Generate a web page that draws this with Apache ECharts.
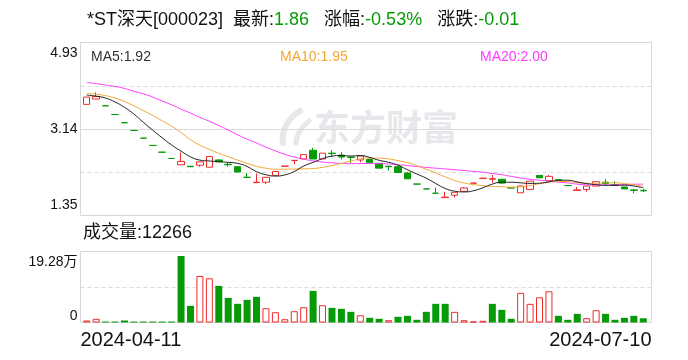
<!DOCTYPE html>
<html><head><meta charset="utf-8">
<script src="https://cdn.jsdelivr.net/npm/echarts@6/dist/echarts.min.js"></script>
<style>html,body{margin:0;padding:0;background:#fff}#c{width:688px;height:360px}</style>
</head><body><div id="c"></div>
<script>
const stockName = '*ST深天[000023]';
const dates = ['2024-04-11','2024-04-12','2024-04-15','2024-04-16','2024-04-17','2024-04-18','2024-04-19','2024-04-22','2024-04-23','2024-04-24',
 '2024-04-25','2024-04-26','2024-04-29','2024-05-06','2024-05-07','2024-05-08','2024-05-09','2024-05-10','2024-05-13','2024-05-14',
 '2024-05-15','2024-05-16','2024-05-17','2024-05-20','2024-05-21','2024-05-22','2024-05-23','2024-05-24','2024-05-27','2024-05-28',
 '2024-05-29','2024-05-30','2024-05-31','2024-06-03','2024-06-04','2024-06-05','2024-06-06','2024-06-07','2024-06-11','2024-06-12',
 '2024-06-13','2024-06-14','2024-06-17','2024-06-18','2024-06-19','2024-06-20','2024-06-21','2024-06-24','2024-06-25','2024-06-26',
 '2024-06-27','2024-06-28','2024-07-01','2024-07-02','2024-07-03','2024-07-04','2024-07-05','2024-07-08','2024-07-09','2024-07-10'];
const opens = [3.65,3.76,3.62,3.44,3.27,3.11,2.95,2.80,2.66,2.53,
 2.40,2.37,2.39,2.35,2.50,2.41,2.36,2.14,2.03,2.04,
 2.18,2.37,2.49,2.52,2.70,2.52,2.64,2.60,2.56,2.50,
 2.51,2.43,2.37,2.36,2.23,2.00,1.90,1.81,1.72,1.77,
 1.85,2.02,2.12,2.10,2.10,1.92,1.82,1.89,2.18,2.07,
 2.09,1.97,1.87,1.89,1.96,2.04,1.99,1.94,1.88,1.87];
const closes = [3.80,3.81,3.62,3.44,3.27,3.11,2.95,2.80,2.66,2.53,
 2.47,2.36,2.46,2.57,2.46,2.40,2.25,2.14,2.04,2.14,
 2.26,2.37,2.49,2.61,2.52,2.64,2.63,2.56,2.55,2.58,
 2.44,2.33,2.36,2.24,2.11,2.00,1.90,1.81,1.73,1.83,
 1.92,2.02,2.12,2.11,2.02,1.92,1.96,2.06,2.13,2.16,
 2.08,1.97,1.88,1.96,2.05,2.01,1.97,1.90,1.87,1.86];
const lows = [3.65,3.76,3.62,3.44,3.27,3.11,2.95,2.80,2.66,2.53,
 2.40,2.35,2.36,2.35,2.46,2.36,2.25,2.14,2.03,2.00,
 2.18,2.37,2.41,2.52,2.52,2.52,2.57,2.51,2.44,2.45,
 2.44,2.33,2.28,2.24,2.11,2.00,1.90,1.81,1.72,1.72,
 1.85,2.02,2.12,2.03,2.01,1.92,1.82,1.89,2.13,2.07,
 2.07,1.97,1.87,1.84,1.96,1.98,1.96,1.90,1.81,1.84];
const highs = [3.80,3.90,3.62,3.44,3.27,3.11,2.95,2.80,2.66,2.53,
 2.65,2.37,2.46,2.57,2.51,2.45,2.36,2.23,2.22,2.14,
 2.26,2.37,2.49,2.61,2.75,2.64,2.70,2.66,2.58,2.58,
 2.55,2.43,2.37,2.36,2.25,2.00,1.90,1.93,1.84,1.83,
 1.94,2.02,2.12,2.19,2.10,1.92,1.96,2.06,2.18,2.19,
 2.10,1.97,1.94,1.96,2.05,2.10,2.06,1.94,1.90,1.90];
const volumes = [5800,10700,2900,2900,5800,2900,2900,2900,2900,2900,
 192800,48300,135000,128100,106100,71400,54100,65600,74300,41300,
 29800,9500,32700,44200,91600,50000,42500,39600,30900,21100,
 13600,10700,6600,16500,19400,7800,30900,54100,54100,30900,
 6600,2900,4900,54100,36700,10700,85900,54100,73100,90500,
 19400,7800,25100,12400,35600,25100,7800,13600,19400,12266];
const ma5 = [3.84,3.82,3.78,3.70,3.588,3.45,3.278,3.114,2.958,2.81,
 2.682,2.564,2.496,2.478,2.464,2.45,2.428,2.364,2.258,2.194,
 2.166,2.19,2.26,2.374,2.45,2.526,2.578,2.592,2.58,2.592,
 2.552,2.492,2.452,2.39,2.296,2.208,2.122,2.012,1.91,1.854,
 1.838,1.862,1.924,2.00,2.038,2.038,2.026,2.014,2.018,2.046,
 2.078,2.08,2.044,2.01,1.988,1.974,1.974,1.978,1.96,1.922];
const ma10 = [3.88,3.86,3.83,3.78,3.71,3.62,3.52,3.42,3.31,3.199,
 3.066,2.921,2.805,2.718,2.637,2.566,2.496,2.43,2.368,2.329,
 2.308,2.309,2.312,2.316,2.322,2.346,2.384,2.426,2.477,2.521,
 2.539,2.535,2.522,2.485,2.444,2.38,2.307,2.232,2.15,2.075,
 2.023,1.992,1.968,1.955,1.946,1.938,1.944,1.969,2.009,2.042,
 2.058,2.053,2.029,2.014,2.017,2.026,2.027,2.011,1.985,1.954];
const ma20 = [4.10,4.08,4.05,4.02,3.98,3.92,3.87,3.80,3.72,3.64,
 3.55,3.47,3.38,3.30,3.21,3.12,3.02,2.93,2.85,2.764,
 2.687,2.615,2.559,2.517,2.48,2.456,2.44,2.428,2.423,2.425,
 2.424,2.422,2.417,2.401,2.383,2.363,2.346,2.329,2.314,2.298,
 2.281,2.263,2.245,2.219,2.194,2.159,2.126,2.101,2.08,2.059,
 2.041,2.023,1.999,1.985,1.982,1.982,1.986,1.99,1.997,1.999];
const priceTicks = ['1.35','3.14','4.93'];
const priceMin = 1.35, priceMax = 4.93;

const RED = '#ee2a2a', GREEN = '#079a07';
const FONT = '"Liberation Sans","Noto Sans CJK SC",sans-serif';
const n = dates.length;
const last = closes[n-1], prev = closes[n-2];
const chg = last - prev;
const pct = chg / prev * 100;
const maxVol = Math.max(...volumes);
const volMax = maxVol * 71 / 66.5;

const candleData = dates.map((d,i)=>[opens[i], closes[i], lows[i], highs[i]]);
const volData = volumes.map((v,i)=>{
  const up = i === 0 ? true : closes[i] >= closes[i-1];
  return {value: v, itemStyle: up ? {color:'#fff', borderColor: RED, borderWidth:1} : {color: GREEN, borderColor: GREEN, borderWidth:0}};
});

const chart = echarts.init(document.getElementById('c'), null, {renderer:'canvas'});
const frameStyle = {show:true, borderColor:'#d6d6db', borderWidth:1, backgroundColor:'transparent', outerBoundsMode:'none', containLabel:false};
const WM = '#e8e8ec';
chart.setOption({
  animation:false,
  backgroundColor:'#fff',
  textStyle:{fontFamily:FONT},
  title:[
    {left:87, top:11, padding:0,
     text:'{k|' + stockName + '}  {k|最新:}{g|' + last.toFixed(2) + '}   {k|涨幅:}{g|' + pct.toFixed(2) + '%}   {k|涨跌:}{g|' + chg.toFixed(2) + '}',
     textStyle:{fontSize:18, fontWeight:'normal', color:'#111', fontFamily:FONT,
       rich:{k:{fontSize:18, color:'#111', fontFamily:FONT}, g:{fontSize:18, color:GREEN, fontFamily:FONT}}}},
    {left:91, top:50, padding:0, text:'MA5:' + ma5[n-1].toFixed(2), textStyle:{fontSize:14, fontWeight:'normal', color:'#333', fontFamily:FONT}},
    {left:280, top:50, padding:0, text:'MA10:' + ma10[n-1].toFixed(2), textStyle:{fontSize:14, fontWeight:'normal', color:'#f5a733', fontFamily:FONT}},
    {left:480, top:50, padding:0, text:'MA20:' + ma20[n-1].toFixed(2), textStyle:{fontSize:14, fontWeight:'normal', color:'#ff3cff', fontFamily:FONT}},
    {left:83, top:224, padding:0, text:'成交量:' + volumes[n-1], textStyle:{fontSize:18, fontWeight:'normal', color:'#111', fontFamily:FONT}}
  ],
  graphic:[
    {type:'bezierCurve', z:-10, silent:true,
     shape:{x1:300, y1:111, cpx1:288, cpy1:118, cpx2:281, cpy2:131, x2:283, y2:143},
     style:{stroke:WM, lineWidth:6, fill:null, lineCap:'round'}},
    {type:'bezierCurve', z:-10, silent:true,
     shape:{x1:309, y1:121, cpx1:301, cpy1:127, cpx2:296, cpy2:136, x2:296, y2:143},
     style:{stroke:WM, lineWidth:5, fill:null, lineCap:'round'}},
    {type:'text', left:314, top:109, z:-10, silent:true,
     style:{text:'东方财富', font:'bold 36px "Noto Sans CJK SC"', fill:WM}}
  ],
  grid:[
    Object.assign({left:80.5, top:42.5, width:571, height:173}, frameStyle),
    Object.assign({left:80.5, top:251.5, width:571, height:71}, frameStyle),
    {left:82, top:42.5, width:566, height:173, outerBoundsMode:'none', containLabel:false},
    {left:82, top:251.5, width:566, height:71, outerBoundsMode:'none', containLabel:false}
  ],
  xAxis:[
    {gridIndex:0, type:'category', data:dates, boundaryGap:false, position:'bottom', offset:107,
     axisLine:{show:false}, axisTick:{show:false}, splitLine:{show:false},
     axisLabel:{interval:(i)=>i===n-1, align:'right', margin:8, fontSize:20, color:'#111', fontFamily:FONT, showMinLabel:false, showMaxLabel:true}},
    {gridIndex:1, type:'category', data:dates, boundaryGap:false, position:'bottom',
     axisLine:{show:false}, axisTick:{show:false}, splitLine:{show:false},
     axisLabel:{interval:(i)=>i===0, align:'left', margin:8, fontSize:20, color:'#111', fontFamily:FONT, showMinLabel:true, showMaxLabel:false}},
    {gridIndex:2, type:'category', data:dates, show:false},
    {gridIndex:3, type:'category', data:dates, show:false}
  ],
  yAxis:[
    {gridIndex:0, type:'value', min:0, max:2, interval:1, position:'left',
     axisLine:{show:false}, axisTick:{show:false},
     splitLine:{show:true, showMinLine:false, showMaxLine:false, lineStyle:{color:'#d9d9d9', width:1, type:'solid'}},
     axisLabel:{margin:3, color:'#111', fontSize:14, fontFamily:FONT,
       formatter:(v)=> v===0 ? '{b|' + priceTicks[0] + '}' : v===1 ? '{m|' + priceTicks[1] + '}' : '{t|' + priceTicks[2] + '}',
       rich:{t:{padding:[22,0,0,0], fontSize:14, color:'#111'}, b:{padding:[0,0,20,0], fontSize:14, color:'#111'}, m:{fontSize:14, color:'#111'}}}},
    {gridIndex:0, type:'value', min:0, max:4, interval:1,
     axisLine:{show:false}, axisTick:{show:false}, axisLabel:{show:false},
     splitLine:{show:true, showMinLine:false, showMaxLine:false, lineStyle:{color:'#dcdcdc', width:1, type:[4,3]}}},
    {gridIndex:1, type:'value', min:0, max:2, interval:1, position:'left',
     axisLine:{show:false}, axisTick:{show:false},
     splitLine:{show:true, showMinLine:false, showMaxLine:false, lineStyle:{color:'#dcdcdc', width:1, type:[4,3]}},
     axisLabel:{margin:3, color:'#111', fontSize:14, fontFamily:FONT,
       formatter:(v)=> v===0 ? '{b|0}' : v===2 ? '{t|' + (maxVol/10000).toFixed(2) + '万}' : '',
       rich:{t:{padding:[21,0,0,0], fontSize:14, color:'#111'}, b:{padding:[0,0,13,0], fontSize:14, color:'#111'}}}},
    {gridIndex:2, type:'value', min:priceMin, max:priceMax, show:false, splitLine:{show:false}},
    {gridIndex:3, type:'value', min:0, max:volMax, show:false, splitLine:{show:false}}
  ],
  series:[
    {type:'candlestick', xAxisIndex:2, yAxisIndex:3, data:candleData, barWidth:7,
     itemStyle:{color:'#fff', color0:GREEN, borderColor:RED, borderColor0:GREEN, borderWidth:1}},
    {type:'line', xAxisIndex:2, yAxisIndex:3, data:ma20, smooth:true, symbol:'none', lineStyle:{width:1, color:'#ff3cff'}},
    {type:'line', xAxisIndex:2, yAxisIndex:3, data:ma10, smooth:true, symbol:'none', lineStyle:{width:1, color:'#f5a733'}},
    {type:'line', xAxisIndex:2, yAxisIndex:3, data:ma5, smooth:true, symbol:'none', lineStyle:{width:1, color:'#222'}},
    {type:'bar', xAxisIndex:3, yAxisIndex:4, data:volData, barWidth:7}
  ]
});
</script></body></html>
